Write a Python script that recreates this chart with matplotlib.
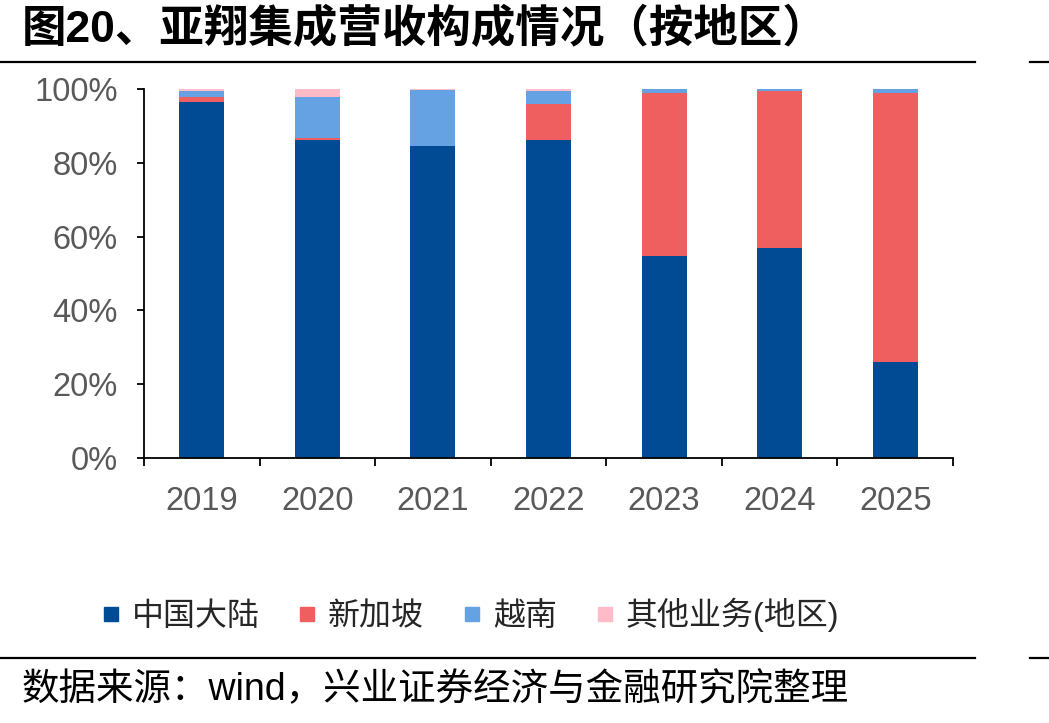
import matplotlib
matplotlib.use("Agg")
import matplotlib.pyplot as plt
from matplotlib.lines import Line2D
import numpy as np

plt.rcParams['font.family'] = ['Liberation Sans', 'Noto Sans CJK SC', 'DejaVu Sans']

# data (share of revenue, %)
years = ["2019", "2020", "2021", "2022", "2023", "2024", "2025"]
mainland = [96.4, 86.2, 84.6, 86.2, 54.7, 56.9, 26.0]
singapore = [1.5, 0.6, 0.0, 9.7, 44.2, 42.6, 72.9]
vietnam = [1.5, 11.1, 15.1, 3.6, 1.1, 0.5, 1.1]
other = [0.6, 2.1, 0.3, 0.5, 0.0, 0.0, 0.0]

series_names = ["中国大陆", "新加坡", "越南", "其他业务(地区)"]
colors = ["#004B93", "#EF5F60", "#64A2E3", "#FFBBC7"]

title = "图20、亚翔集成营收构成情况（按地区）"
source = "数据来源：wind，兴业证券经济与金融研究院整理"

W, H = 1049, 723
fig = plt.figure(figsize=(W / 100, H / 100), dpi=100)
ax = fig.add_axes([144 / W, 1 - 458 / H, (953 - 144) / W, (458 - 89) / H])

x = np.arange(len(years))
bottom = np.zeros(len(years))
for vals, name, c in zip([mainland, singapore, vietnam, other], series_names, colors):
    ax.bar(x, vals, width=0.39, bottom=bottom, color=c, label=name)
    bottom += np.array(vals)

ax.set_xlim(-0.5, len(years) - 0.5)
ax.set_ylim(0, 100)
ax.set_yticks(np.arange(0, 101, 20))
ax.set_yticklabels([f"{v}%" for v in range(0, 101, 20)])
ax.set_xticks(x)
ax.set_xticklabels(years)
ax.set_xticks(np.arange(-0.5, len(years), 1), minor=True)

for s in ["top", "right"]:
    ax.spines[s].set_visible(False)
for s in ["left", "bottom"]:
    ax.spines[s].set_linewidth(1.3)
    ax.spines[s].set_color("black")

ax.tick_params(axis="y", length=5, width=1.3, pad=14, labelsize=23.5, labelcolor="#595959")
ax.tick_params(axis="x", which="major", length=0, pad=20, labelsize=23.5, labelcolor="#595959")
ax.tick_params(axis="x", which="minor", length=6, width=1.3)

handles = [Line2D([], [], marker="s", linestyle="none", markersize=9.5,
                  markerfacecolor=c, markeredgecolor=c) for c in colors]
fig.legend(handles, series_names, loc="center", bbox_to_anchor=(470 / W, 1 - 615 / H),
           ncol=4, frameon=False, fontsize=23, handlelength=0.6, handletextpad=0.35,
           columnspacing=1.2, labelcolor="#262626")

fig.text(22 / W, 1 - 30 / H, title, fontsize=32, fontweight="bold", va="center", ha="left")
fig.text(22 / W, 1 - 690 / H, source, fontsize=27, va="center", ha="left")

for yy in [62, 658]:
    fig.add_artist(Line2D([0, 975 / W], [1 - yy / H] * 2, color="black", lw=1.6))
    fig.add_artist(Line2D([1030 / W, 1], [1 - yy / H] * 2, color="black", lw=1.6))

fig.savefig("out.png", dpi=100)
